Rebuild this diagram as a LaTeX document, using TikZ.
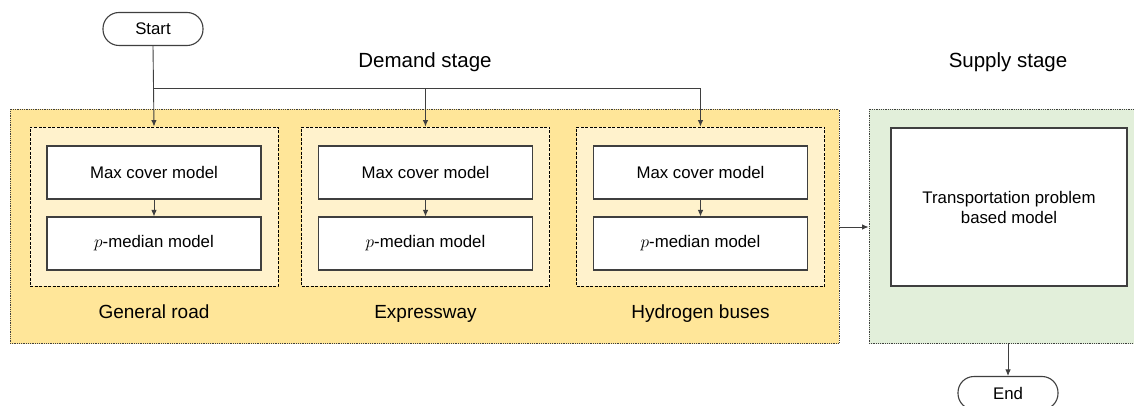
\documentclass[tikz,border=0pt]{standalone}
\usepackage{fontspec}
\setmainfont{Liberation Sans}
\usepackage{xcolor}
\usetikzlibrary{arrows.meta}

\definecolor{demandfill}{HTML}{FFE699}
\definecolor{groupfill}{HTML}{FFF2CC}
\definecolor{supplyfill}{HTML}{E2EFDA}
\definecolor{linegray}{HTML}{3F3F3F}

\tikzset{
	stagebox/.style={draw=linegray, line width=0.9pt, dash pattern=on 0.9pt off 0.9pt, inner sep=0pt},
	groupbox/.style={draw=black, line width=0.9pt, dash pattern=on 3pt off 1.5pt, fill=groupfill, minimum width=248pt, minimum height=159pt, inner sep=0pt},
	modelbox/.style={draw=linegray, line width=1.1pt, fill=white, minimum width=214pt, minimum height=53pt, inner sep=0pt, font=\fontsize{16.8}{20}\selectfont},
	terminal/.style={draw=linegray, line width=1.1pt, rounded corners=16pt, fill=white, minimum width=100pt, minimum height=33pt, inner sep=0pt, font=\fontsize{16.8}{20}\selectfont},
	label/.style={font=\fontsize{19}{22}\selectfont, text height=13pt, text depth=4pt},
	title/.style={font=\fontsize{20.5}{24}\selectfont, text height=14pt, text depth=4pt},
	flow/.style={draw=linegray, line width=0.9pt, -{Latex[length=6.5pt,width=5.5pt]}}
}

\begin{document}
\begin{tikzpicture}[x=1pt, y=-1pt]
					\useasboundingbox (0,0) rectangle (1134,406);
					
					\node[stagebox, fill=demandfill, minimum width=829pt, minimum height=234pt] (demand) at (424.5,226.5) {};
					\node[stagebox, fill=supplyfill, minimum width=280pt, minimum height=234pt] (supply) at (1009,226.5) {};
					
					\node[title] (demandtitle) at (425,63) {Demand stage};
					\node[title] (supplytitle) at (1008,63) {Supply stage};
					
					\node[terminal] (start) at (153,29) {Start};
					\node[terminal] (end) at (1008,393) {End};
					
					\node[groupbox] (road) at (154,206.5) {};
					\node[groupbox] (express) at (425.5,206.5) {};
					\node[groupbox] (buses) at (700.5,206.5) {};
					
					\node[modelbox] (roadmax) at (154,172.5) {Max cover model};
					\node[modelbox] (roadmed) at (154,243.5) {$p$-median model};
					\node[modelbox] (expressmax) at (425.5,172.5) {Max cover model};
					\node[modelbox] (expressmed) at (425.5,243.5) {$p$-median model};
					\node[modelbox] (busesmax) at (700.5,172.5) {Max cover model};
					\node[modelbox] (busesmed) at (700.5,243.5) {$p$-median model};
					
					\node[label] (roadlabel) at (154,314) {General road};
					\node[label] (expresslabel) at (425.5,314) {Expressway};
					\node[label] (buseslabel) at (700.5,314) {Hydrogen buses};
					
					\node[modelbox, minimum width=236pt, minimum height=158pt, align=center] (transport) at (1009,207) {Transportation problem\\based model};
					
					\coordinate (split) at (start.south |- 0,88);
					\draw[flow] (start.south) -- (road.north);
					\draw[flow] (split) -| (express.north);
					\draw[flow] (split) -| (buses.north);
					\draw[flow] (roadmax) -- (roadmed);
					\draw[flow] (expressmax) -- (expressmed);
					\draw[flow] (busesmax) -- (busesmed);
					\draw[flow] (demand.east |- 0,227) -- (supply.west |- 0,227);
					\draw[flow] (supply.south -| end.north) -- (end.north);
				\end{tikzpicture}
\end{document}
